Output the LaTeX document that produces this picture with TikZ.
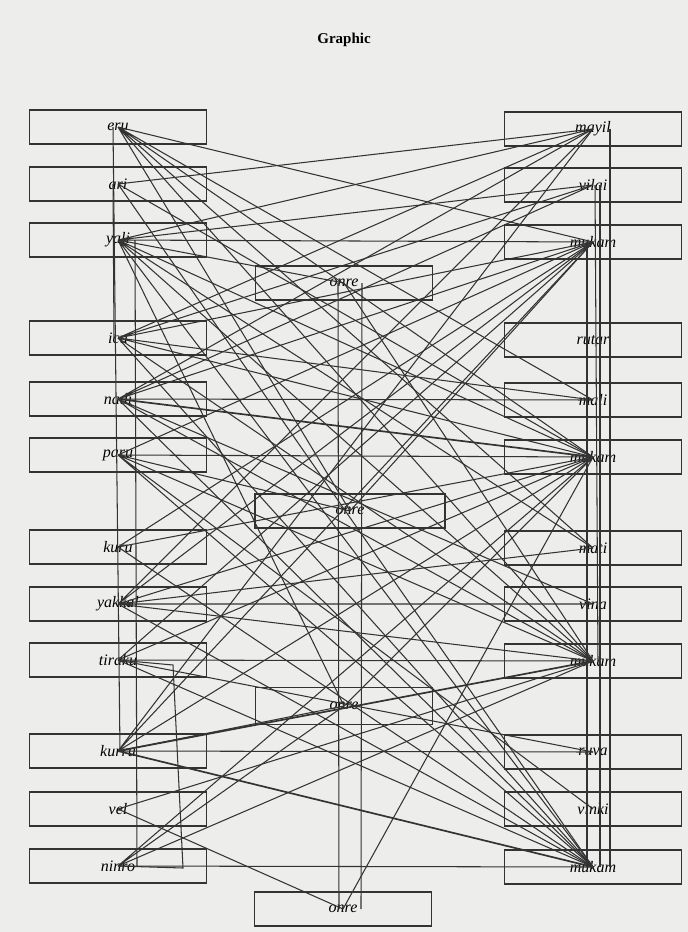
\documentclass[tikz,border=0pt]{standalone}
\usepackage{fontspec}
\setmainfont{Liberation Serif}
\usepackage{tikz}
\usetikzlibrary{positioning}
\definecolor{paper}{HTML}{EDEDEB}
\definecolor{ink}{HTML}{333333}

\begin{document}
\begin{tikzpicture}[x=1pt, y=-1pt,
  wbox/.style={draw=ink, line width=1.4pt, minimum width=177pt, minimum height=34pt,
               inner sep=0pt, font=\fontsize{16}{16}\selectfont\itshape},
  lnk/.style={draw=ink, line width=1.05pt},
  hvy/.style={draw=ink, line width=1.7pt}]
\fill[paper] (0,0) rectangle (688,932);
\node[font=\fontsize{15}{15}\selectfont\bfseries] (title) at (344,40) {Graphic};
% left column
\node[wbox] (eru) at (118,127) {eru};
\node[wbox] (ari) at (118,184) {ari};
\node[wbox] (yali) at (118,240) {yali};
\node[wbox] (icu) at (118,338) {icu};
\node[wbox] (nadi) at (118,399) {nadi};
\node[wbox] (paru) at (118,455) {paru};
\node[wbox] (kuru) at (118,547) {kuru};
\node[wbox] (yakkal) at (118,604) {yakkal};
\node[wbox] (tiraku) at (118,660) {tiraku};
\node[wbox] (kurru) at (118,751) {kurru};
\node[wbox] (vel) at (118,809) {vel};
\node[wbox] (ninro) at (118,866) {ninro};
% right column
\node[wbox] (mayil) at (593,129) {mayil};
\node[wbox] (vilai) at (593,185) {vilai};
\node[wbox] (mukA) at (593,242) {mukam};
\node[wbox] (rutar) at (593,340) {rutar};
\node[wbox] (mali) at (593,400) {mali};
\node[wbox] (mukB) at (593,457) {mukam};
\node[wbox] (mati) at (593,548) {mati};
\node[wbox] (vina) at (593,604) {vina};
\node[wbox] (mukC) at (593,661) {mukam};
\node[wbox] (ruva) at (593,752) {ruva};
\node[wbox] (vinki) at (593,809) {vinki};
\node[wbox] (mukD) at (593,867) {mukam};
% middle
\node[wbox] (onreA) at (344,283) {onre};
\node[wbox, minimum width=190pt] (onreB) at (350,511) {onre};
\node[wbox, minimum height=37pt] (onreC) at (344,706) {onre};
\node[wbox] (onreD) at (343,909) {onre};
\coordinate (tkA) at (173,665);
\coordinate (tkB) at (183,868);
% links
\draw[lnk] (eru.center) -- (mukA.center) (eru.center) -- (mali.center) (eru.center) -- (mukB.center)
  (eru.center) -- (mukC.center) (eru.center) -- (onreB.center) (eru.center) -- (mati.center);
\draw[lnk] (ari.center) -- (mayil.center) (ari.center) -- (mukB.center) (ari.center) -- (mukD.center);
\draw[lnk] (yali.center) -- (mayil.center) (yali.center) -- (vilai.center) (yali.center) -- (mukA.center)
  (yali.center) -- (mukB.center) (yali.center) -- (mukC.center) (yali.center) -- (mukD.center)
  (yali.center) -- (onreA.center) (yali.center) -- (mati.center) (yali.center) -- (onreC.center);
\draw[lnk] (icu.center) -- (mayil.center) (icu.center) -- (mukA.center) (icu.center) -- (mali.center)
  (icu.center) -- (mukB.center) (icu.center) -- (mukC.center) (icu.center) -- (mukD.center)
  (icu.center) -- (vilai.center);
\draw[lnk] (nadi.center) -- (mayil.center) (nadi.center) -- (mukA.center) (nadi.center) -- (mali.center)
  (nadi.center) -- (mukC.center) (nadi.center) -- (mukD.center) (nadi.center) -- (vina.center)
  (nadi.center) -- (vilai.center);
\draw[hvy] (nadi.center) -- (mukB.center);
\draw[lnk] (paru.center) -- (mukA.center) (paru.center) -- (mukB.center) (paru.center) -- (mukC.center)
  (paru.center) -- (mukD.center) (paru.center) -- (onreB.center) (paru.center) -- (vinki.center);
\draw[lnk] (kuru.center) -- (mukA.center) (kuru.center) -- (mukB.center) (kuru.center) -- (mukD.center);
\draw[lnk] (yakkal.center) -- (mayil.center) (yakkal.center) -- (mukA.center) (yakkal.center) -- (mukB.center)
  (yakkal.center) -- (mukC.center) (yakkal.center) -- (mukD.center) (yakkal.center) -- (vina.center)
  (yakkal.center) -- (mati.center);
\draw[lnk] (tiraku.center) -- (mukA.center) (tiraku.center) -- (mukB.center) (tiraku.center) -- (mukC.center)
  (tiraku.center) -- (mukD.center) (tiraku.center) -- (ruva.center);
\draw[lnk] (kurru.center) -- (mayil.center) (kurru.center) -- (mukA.center) (kurru.center) -- (mukB.center)
  (kurru.center) -- (ruva.center) (kurru.center) -- (onreC.center);
\draw[hvy] (kurru.center) -- (mukC.center) (kurru.center) -- (mukD.center);
\draw[lnk] (vel.center) -- (onreD.center) (vel.center) -- (mukC.center);
\draw[lnk] (ninro.center) -- (mukB.center) (ninro.center) -- (mukC.center) (ninro.center) -- (mukD.center)
  (ninro.center) -- (onreC.center);
\draw[lnk] (onreA.center) -- (mukC.center) (onreB.center) -- (mukA.center) (onreC.center) -- (mukB.center)
  (onreD.center) -- (mukB.center);
% verticals
\draw[lnk] ([xshift=-5pt]eru.center) -- ([xshift=2pt]kurru.center);
\draw[lnk] ([xshift=17pt]yali.center) -- ([xshift=19pt]ninro.center);
\draw[lnk] ([xshift=-5pt]ari.center) -- ([xshift=-4pt]icu.center);
\draw[lnk] (tiraku.center) -- (tkA) -- (tkB) -- (ninro.center);
\draw[lnk] ([xshift=17pt]mayil.center) -- ([xshift=17pt]mukD.center);
\draw[lnk] ([xshift=-6pt]mukA.center) -- ([xshift=-6pt]mukD.center);
\draw[lnk] ([xshift=2pt]vilai.center) -- ([xshift=5pt]mukC.center);
\draw[lnk] ([xshift=7pt]vilai.center) -- ([xshift=7pt]mukD.center);
\draw[lnk] ([xshift=-6pt]onreA.center) -- ([xshift=-4pt]onreD.center);
\draw[lnk] ([xshift=18pt]onreA.center) -- ([xshift=18pt]onreD.center);
\end{tikzpicture}
\end{document}
